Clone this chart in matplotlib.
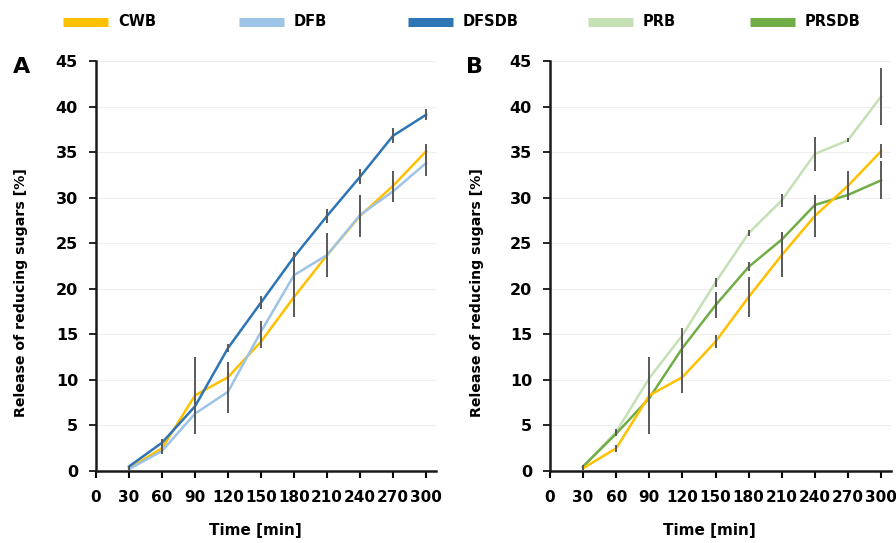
import numpy as np
import matplotlib
matplotlib.use("Agg")
from matplotlib import pyplot as plt
from matplotlib.lines import Line2D

plt.rcParams["font.family"] = ["DejaVu Sans"]
plt.rcParams["font.weight"] = "bold"

# sampling times (min)
time = [30, 60, 90, 120, 150, 180, 210, 240, 270, 300]

# release of reducing sugars [%], mean and SD per bran type
cwb = [0.3, 2.5, 8.3, 10.3, 14.2, 19.1, 23.7, 28.0, 31.3, 35.1]
cwb_sd = [0.2, 0.4, 4.2, 1.7, 0.7, 2.2, 2.4, 2.3, 1.6, 0.8]
dfb = [0.2, 2.2, 6.3, 8.7, 15.3, 21.5, 23.7, 28.1, 30.7, 33.8]
dfb_sd = [0.1, 0.3, 0.5, 2.3, 1.2, 1.8, 0.6, 1.0, 1.2, 1.4]
dfsdb = [0.5, 3.1, 7.1, 13.5, 18.5, 23.5, 28.0, 32.3, 36.8, 39.1]
dfsdb_sd = [0.1, 0.4, 0.5, 0.4, 0.7, 0.5, 0.8, 0.8, 0.8, 0.6]
prb = [0.5, 4.3, 10.2, 14.9, 20.7, 26.1, 29.7, 34.8, 36.3, 41.1]
prb_sd = [0.1, 0.3, 0.8, 0.8, 0.5, 0.3, 0.7, 1.9, 0.2, 3.1]
prsdb = [0.5, 4.1, 8.0, 13.5, 18.2, 22.4, 25.4, 29.2, 30.3, 31.9]
prsdb_sd = [0.2, 0.3, 1.2, 1.6, 1.4, 0.5, 0.8, 1.0, 0.6, 2.1]

names = ["CWB", "DFB", "DFSDB", "PRB", "PRSDB"]
colors = {
    "CWB": "#FFC000",
    "DFB": "#9DC3E6",
    "DFSDB": "#2E75B6",
    "PRB": "#C5E0B4",
    "PRSDB": "#70AD47",
}
err_color = "#595959"

W, H = 896, 543
fig = plt.figure(figsize=(W / 100, H / 100), dpi=100)
ax_a = fig.add_axes([96 / W, 1 - 471 / H, 340 / W, 410 / H])
ax_b = fig.add_axes([550 / W, 1 - 471 / H, 341 / W, 410 / H])

panels = [
    (ax_a, "A", [("CWB", cwb, cwb_sd), ("DFB", dfb, dfb_sd), ("DFSDB", dfsdb, dfsdb_sd)]),
    (ax_b, "B", [("PRB", prb, prb_sd), ("PRSDB", prsdb, prsdb_sd), ("CWB", cwb, cwb_sd)]),
]

for ax, letter, series in panels:
    for name, vals, sd in series:
        ax.plot(time, vals, color=colors[name], lw=1.8, zorder=2)
    for name, vals, sd in series:
        ax.errorbar(time, vals, yerr=sd, fmt="none", ecolor=err_color,
                    elinewidth=1.4, capsize=0, zorder=3)

    ax.set_xlim(0, 309)
    ax.set_ylim(0, 45)
    ax.set_xticks(range(0, 301, 30))
    ax.set_yticks(range(0, 46, 5))
    ax.grid(axis="y", color="#efefef", lw=0.8)
    ax.set_axisbelow(True)
    for s in ["top", "right"]:
        ax.spines[s].set_visible(False)
    for s in ["left", "bottom"]:
        ax.spines[s].set_linewidth(1.8)
        ax.spines[s].set_color("#1a1a1a")
    ax.tick_params(axis="x", length=5, width=1.5, pad=9, labelsize=11)
    ax.tick_params(axis="y", length=5, width=1.2, pad=8, labelsize=11.5)
    ax.set_ylabel("Release of reducing sugars [%]", fontsize=10.2, fontweight="bold")
    ax.set_xlabel("Time [min]", fontsize=11, fontweight="bold")
    ax.xaxis.set_label_coords(0.468, -0.128)
    ax.text(-0.245, 0.985, letter, transform=ax.transAxes, fontsize=16,
            fontweight="bold", ha="left", va="center")

ax_a.yaxis.set_label_coords(-0.2, 0.434)
ax_b.yaxis.set_label_coords(-0.194, 0.434)

# legend row across the top
handle_x = [63, 239, 408, 588, 750]
for name, hx in zip(names, handle_x):
    fig.add_artist(Line2D([hx / W, (hx + 45) / W], [1 - 22 / H] * 2,
                          transform=fig.transFigure, color=colors[name],
                          lw=6.5, solid_capstyle="butt"))
    fig.text((hx + 55) / W, 1 - 22 / H, name, fontsize=10.5, fontweight="bold",
             ha="left", va="center")

fig.savefig("out.png", dpi=100)
